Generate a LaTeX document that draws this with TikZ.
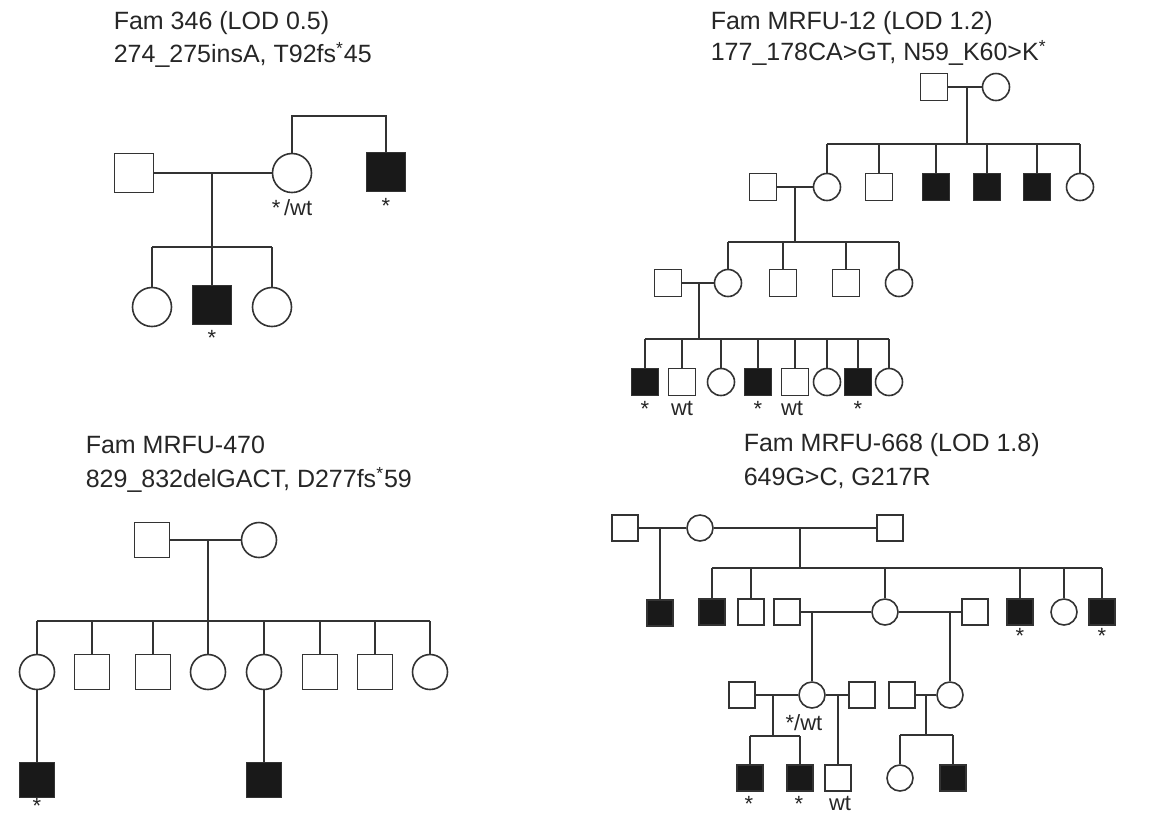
\documentclass[tikz,border=0pt]{standalone}
\usepackage{fontspec}
\setmainfont{Liberation Sans}
\begin{document}
\begin{tikzpicture}[x=0.5pt,y=-0.5pt,line width=0.8pt,draw=black!80,
    m/.style={draw,rectangle,inner sep=0pt,minimum size=\psz},
    f/.style={draw,circle,inner sep=0pt,minimum size=\psz},
    aff/.style={fill=black!90},
    title/.style={anchor=west,inner sep=0pt,font=\fontsize{12.5}{15}\selectfont,text=black!85},
    lab/.style={inner sep=0pt,font=\fontsize{11}{13}\selectfont,text=black!85}]
  \useasboundingbox (0,0) rectangle (1176,816);
  % Fam 346
  \begin{scope}
    \def\psz{19.5pt}
    \node[title] (ta1) at (113,23) {Fam 346 (LOD 0.5)};
    \node[title] (ta2) at (113,55) {274\_275insA, T92fs\textsuperscript{*}45};
    \draw
      (134,173) node[m] (aI1){}
      (292,173) node[f] (aI2){}
      (386,172) node[m,aff] (aI3){}
      (152,307) node[f] (aII1){}
      (212,305) node[m,aff] (aII2){}
      (272,307) node[f] (aII3){};
    \coordinate (am1) at (212,173);
    \coordinate (as1) at (212,247);
    \coordinate (at1) at (339,116);
    \draw (aI1) -- (aI2);
    \draw (am1) -- (as1);
    \draw (as1 -| aII1) -- (as1 -| aII3);
    \foreach \c in {aII1,aII2,aII3}
      \draw (as1 -| \c) -- (\c);
    \draw (aI2.north) |- (at1) -| (aI3.north);
    \node[lab] (al1) at (292,208) {*\,/wt};
    \node[lab] (al2) at (386,206) {*};
    \node[lab] (al3) at (212,338) {*};
  \end{scope}
  % Fam MRFU-12
  \begin{scope}
    \def\psz{13.5pt}
    \node[title] (tb1) at (710,23) {Fam MRFU-12 (LOD 1.2)};
    \node[title] (tb2) at (710,53) {177\_178CA>GT, N59\_K60>K\textsuperscript{*}};
    \draw
      (934,87) node[m] (bI1){}
      (996,87) node[f] (bI2){}
      (763,187) node[m] (bII1){}
      (827,187) node[f] (bII2){}
      (879,187) node[m] (bII3){}
      (936,187) node[m,aff] (bII4){}
      (987,187) node[m,aff] (bII5){}
      (1037,187) node[m,aff] (bII6){}
      (1080,187) node[f] (bII7){}
      (668,283) node[m] (bIII1){}
      (728,283) node[f] (bIII2){}
      (783,283) node[m] (bIII3){}
      (846,283) node[m] (bIII4){}
      (899,283) node[f] (bIII5){}
      (645,382) node[m,aff] (bIV1){}
      (682,382) node[m] (bIV2){}
      (721,382) node[f] (bIV3){}
      (758,382) node[m,aff] (bIV4){}
      (795,382) node[m] (bIV5){}
      (827,382) node[f] (bIV6){}
      (858,382) node[m,aff] (bIV7){}
      (889,382) node[f] (bIV8){};
    \coordinate (bm1) at (967,87);
    \coordinate (bs1) at (967,144);
    \coordinate (bm2) at (795,187);
    \coordinate (bs2) at (795,242);
    \coordinate (bm3) at (699,283);
    \coordinate (bs3) at (699,339);
    \draw (bI1) -- (bI2);
    \draw (bm1) -- (bs1);
    \draw (bs1 -| bII2) -- (bs1 -| bII7);
    \foreach \c in {bII2,bII3,bII4,bII5,bII6,bII7}
      \draw (bs1 -| \c) -- (\c);
    \draw (bII1) -- (bII2);
    \draw (bm2) -- (bs2);
    \draw (bs2 -| bIII2) -- (bs2 -| bIII5);
    \foreach \c in {bIII2,bIII3,bIII4,bIII5}
      \draw (bs2 -| \c) -- (\c);
    \draw (bIII1) -- (bIII2);
    \draw (bm3) -- (bs3);
    \draw (bs3 -| bIV1) -- (bs3 -| bIV8);
    \foreach \c in {bIV1,bIV2,bIV3,bIV4,bIV5,bIV6,bIV7,bIV8}
      \draw (bs3 -| \c) -- (\c);
    \node[lab] (bl1) at (645,409) {*};
    \node[lab] (bl2) at (682,408) {wt};
    \node[lab] (bl3) at (758,409) {*};
    \node[lab] (bl4) at (792,408) {wt};
    \node[lab] (bl5) at (858,409) {*};
  \end{scope}
  % Fam MRFU-470
  \begin{scope}
    \def\psz{17.5pt}
    \node[title] (tc1) at (85,445) {Fam MRFU-470};
    \node[title] (tc2) at (85,480) {829\_832delGACT, D277fs\textsuperscript{*}59};
    \draw
      (152,540) node[m] (cI1){}
      (259,540) node[f] (cI2){}
      (37,672) node[f] (cII1){}
      (92,672) node[m] (cII2){}
      (153,672) node[m] (cII3){}
      (208,672) node[f] (cII4){}
      (264,672) node[f] (cII5){}
      (320,672) node[m] (cII6){}
      (375,672) node[m] (cII7){}
      (430,672) node[f] (cII8){}
      (37,780) node[m,aff] (cIII1){}
      (264,780) node[m,aff] (cIII2){};
    \coordinate (cm1) at (208,540);
    \coordinate (cs1) at (208,621);
    \draw (cI1) -- (cI2);
    \draw (cm1) -- (cs1);
    \draw (cs1 -| cII1) -- (cs1 -| cII8);
    \foreach \c in {cII1,cII2,cII3,cII4,cII5,cII6,cII7,cII8}
      \draw (cs1 -| \c) -- (\c);
    \draw (cII1) -- (cIII1);
    \draw (cII5) -- (cIII2);
    \node[lab] (cl1) at (37,806) {*};
  \end{scope}
  % Fam MRFU-668
  \begin{scope}
    \def\psz{13pt}
    \node[title] (td1) at (743,445) {Fam MRFU-668 (LOD 1.8)};
    \node[title] (td2) at (743,478) {649G>C, G217R};
    \draw
      (625,528) node[m] (dI1){}
      (700,528) node[f] (dI2){}
      (890,528) node[m] (dI3){}
      (660,613) node[m,aff] (dII1){}
      (712,612) node[m,aff] (dII2){}
      (751,612) node[m] (dII3){}
      (787,612) node[m] (dII4){}
      (885,612) node[f] (dII5){}
      (975,612) node[m] (dII6){}
      (1020,612) node[m,aff] (dII7){}
      (1064,612) node[f] (dII8){}
      (1102,612) node[m,aff] (dII9){}
      (742,695) node[m] (dIII1){}
      (812,695) node[f] (dIII2){}
      (862,695) node[m] (dIII3){}
      (902,695) node[m] (dIII4){}
      (950,695) node[f] (dIII5){}
      (750,778) node[m,aff] (dIV1){}
      (800,778) node[m,aff] (dIV2){}
      (838,778) node[m] (dIV3){}
      (900,778) node[f] (dIV4){}
      (953,778) node[m,aff] (dIV5){};
    \coordinate (dm1) at (660,528);
    \coordinate (dm2) at (800,528);
    \coordinate (ds2) at (800,568);
    \coordinate (dm3) at (812,612);
    \coordinate (dm4) at (950,612);
    \coordinate (dm5) at (773,695);
    \coordinate (ds5) at (773,736);
    \coordinate (dm6) at (838,695);
    \coordinate (dm7) at (926,695);
    \coordinate (ds7) at (926,735);
    \draw (dI1) -- (dI2);
    \draw (dI2) -- (dI3);
    \draw (dm1) -- (dII1);
    \draw (dm2) -- (ds2);
    \draw (ds2 -| dII2) -- (ds2 -| dII9);
    \foreach \c in {dII2,dII3,dII5,dII7,dII8,dII9}
      \draw (ds2 -| \c) -- (\c);
    \draw (dII4) -- (dII5);
    \draw (dII5) -- (dII6);
    \draw (dm3) -- (dIII2);
    \draw (dm4) -- (dIII5);
    \draw (dIII1) -- (dIII2);
    \draw (dIII2) -- (dIII3);
    \draw (dIII4) -- (dIII5);
    \draw (dm5) -- (ds5);
    \draw (ds5 -| dIV1) -- (ds5 -| dIV2);
    \foreach \c in {dIV1,dIV2}
      \draw (ds5 -| \c) -- (\c);
    \draw (dm6) -- (dIV3);
    \draw (dm7) -- (ds7);
    \draw (ds7 -| dIV4) -- (ds7 -| dIV5);
    \foreach \c in {dIV4,dIV5}
      \draw (ds7 -| \c) -- (\c);
    \node[lab] (dl1) at (804,723) {*/wt};
    \node[lab] (dl2) at (1020,636) {*};
    \node[lab] (dl3) at (1102,636) {*};
    \node[lab] (dl4) at (749,804) {*};
    \node[lab] (dl5) at (799,804) {*};
    \node[lab] (dl6) at (840,803) {wt};
  \end{scope}
\end{tikzpicture}
\end{document}
